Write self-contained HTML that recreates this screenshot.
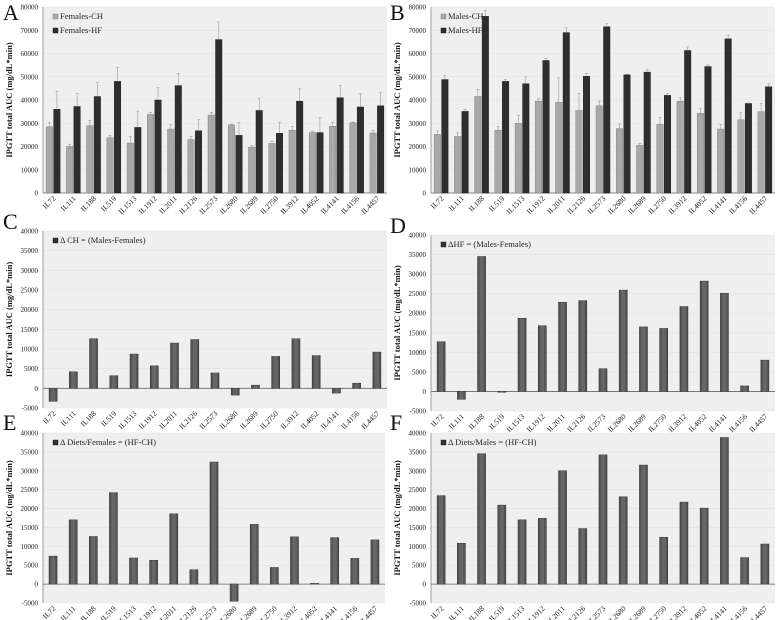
<!DOCTYPE html>
<html><head><meta charset="utf-8"><style>
html,body{margin:0;padding:0;background:#fff;}
svg{display:block;font-family:"Liberation Serif",serif;}
</style></head><body>
<svg id="fig" width="778" height="620" viewBox="0 0 778 620" xmlns="http://www.w3.org/2000/svg"></svg>
<script>
const categories=["IL72","IL111","IL188","IL519","IL1513","IL1912","IL2011","IL2126","IL2573","IL2680","IL2689","IL2750","IL3912","IL4052","IL4141","IL4156","IL4457"];
const femalesCH=[28500,20000,29000,23800,21500,33800,27500,23000,33500,29300,19700,21300,27000,26000,28700,30200,25800];
const femalesHF=[36000,37200,41500,48000,28200,40000,46200,26800,66000,24800,35500,25700,39500,26000,41000,37000,37500];
const femalesCHErr=[1800,1000,2200,1000,2800,800,2000,1400,1200,300,800,1000,1600,600,1600,300,1200];
const femalesHFErr=[7800,5700,6000,6000,7000,5300,5200,4700,7600,5600,5300,4700,5300,6300,5300,5700,5700];
const malesCH=[25200,24300,41500,27000,30000,39500,39000,35500,37500,27700,20500,29500,39500,34300,27500,31500,35000];
const malesHF=[48800,35100,76000,48000,47000,57000,69000,50200,71500,50800,52000,42000,61300,54400,66300,38500,45700];
const malesCHErr=[1500,1500,3000,1500,3500,1000,10500,7300,2000,2000,800,3000,1500,2000,2000,3000,3500];
const malesHFErr=[1700,1000,2500,800,3000,800,2000,1200,1300,300,1000,800,1600,700,1600,200,1300];
const deltaCH=[-3300,4200,12600,3200,8700,5700,11500,12400,3900,-1700,800,8100,12600,8300,-1200,1300,9200];
const deltaHF=[12700,-2000,34500,-200,18700,16800,22800,23200,5800,25900,16500,16100,21700,28200,25100,1400,8000];
const deltaFemales=[7400,17000,12600,24200,6900,6300,18600,3800,32300,-4500,15800,4400,12500,200,12300,6800,11700];
const deltaMales=[23400,10800,34500,20900,17000,17400,30000,14700,34200,23100,31500,12400,21700,20100,38800,7000,10600];
const ticksAB=[0,10000,20000,30000,40000,50000,60000,70000,80000];
const ticksDelta=[-5000,0,5000,10000,15000,20000,25000,30000,35000,40000];

const NS="http://www.w3.org/2000/svg";
const svg=document.getElementById('fig');
function mk(tag,attrs,parent,text){const e=document.createElementNS(NS,tag);for(const k in attrs)e.setAttribute(k,attrs[k]);if(text!==undefined)e.textContent=text;(parent||svg).appendChild(e);return e;}

function panel(cfg){
  const g=mk('g',{});
  
  
  const {x0,x1,yTop,yBot,min,max}=cfg;
  const y=v=>yBot-(v-min)/(max-min)*(yBot-yTop);
  const bw=(x1-x0)/categories.length;
  const xc=i=>x0+bw*(i+0.5);
  const bg=mk('rect',{x:x0,y:yTop,width:x1-x0,height:yBot-yTop,fill:'#efefef'},g);
  
  
  cfg.ticks.forEach(t=>{
    mk('line',{x1:x0,x2:x1,y1:y(t),y2:y(t),stroke:'#e2e2e2','stroke-width':0.6},g);
    const tl=mk('text',{x:x0-5,y:y(t)+2.5,'font-size':7,'text-anchor':'end',fill:'#222'},g,String(t));
    
    
  });
  mk('line',{x1:x0,x2:x0,y1:yTop,y2:yBot,stroke:'#888','stroke-width':0.8},g);
  mk('line',{x1:x0,x2:x1,y1:y(0),y2:y(0),stroke:'#666','stroke-width':0.8},g);
  categories.forEach((c,i)=>{
    const lx=xc(i)+3, ly=yBot+6;
    const t=mk('text',{x:lx,y:ly,'font-size':7.5,'text-anchor':'end',fill:'#222',transform:`rotate(-45 ${lx} ${ly})`},g,c);
    
    
  });
  if(cfg.series.length===2){
    const w=6.5;
    cfg.series.forEach((s,k)=>{
      s.vals.forEach((v,i)=>{
        const bx=xc(i)+(k===0?-w-0.5:0.5);
        const r=mk('rect',{x:bx,y:y(v),width:w,height:y(0)-y(v),fill:s.color,stroke:s.stroke,'stroke-width':0.4},g);
        
        
        const e=s.err[i];
        const el=mk('line',{x1:bx+w/2,x2:bx+w/2,y1:y(v),y2:y(v+e),stroke:'#999','stroke-width':0.6},g);
        
        
        mk('line',{x1:bx+w/2-1.5,x2:bx+w/2+1.5,y1:y(v+e),y2:y(v+e),stroke:'#999','stroke-width':0.6},g);
      });
    });
  } else {
    const s=cfg.series[0]; const w=8;
    s.vals.forEach((v,i)=>{
      const top=Math.min(y(v),y(0)),h=Math.abs(y(v)-y(0));
      const r=mk('rect',{x:xc(i)-w/2,y:top,width:w,height:h,fill:'#555',stroke:'#333','stroke-width':0.6},g);
      
      
      mk('rect',{x:xc(i)-w/2+2,y:top,width:w-4,height:h,fill:'#666'},g);
    });
  }
  // legend
  const lg=mk('g',{},g);
  
  
  cfg.series.forEach((s,k)=>{
    const ly=yTop+cfg.legDy+k*14;
    mk('rect',{x:x0+10,y:ly-5,width:5,height:5,fill:s.color,stroke:s.stroke,'stroke-width':0.4},lg);
    const t=mk('text',{x:x0+17,y:ly,'font-size':8.5,fill:'#222'},lg,s.label);
    
    
  });
  const L=mk('text',{x:cfg.lx,y:cfg.ly,'font-size':22,fill:'#111'},g,cfg.letter);
  
  
  const ym=(yTop+yBot)/2, ax=cfg.x0-31;
  const yt=mk('text',{x:ax,y:ym,'font-size':8.5,'font-weight':'bold','text-anchor':'middle',fill:'#111',transform:`rotate(-90 ${ax} ${ym})`},g,'IPGTT total AUC (mg/dL*min)');
  
  
}
const chC='#a8a8a8', chS='#777', hfC='#2e2e2e';
panel({letter:'A',lx:3,ly:20,x0:43,x1:387,yTop:7,yBot:193,min:0,max:80000,ticks:ticksAB,legDy:12,
 series:[{name:'females-ch',label:'Females-CH',vals:femalesCH,err:femalesCHErr,color:chC,stroke:chS},
         {name:'females-hf',label:'Females-HF',vals:femalesHF,err:femalesHFErr,color:hfC,stroke:'#111'}]});
panel({letter:'B',lx:390,ly:20,x0:431,x1:775,yTop:7,yBot:193,min:0,max:80000,ticks:ticksAB,legDy:12,
 series:[{name:'males-ch',label:'Males-CH',vals:malesCH,err:malesCHErr,color:chC,stroke:chS},
         {name:'males-hf',label:'Males-HF',vals:malesHF,err:malesHFErr,color:hfC,stroke:'#111'}]});
panel({letter:'C',lx:3,ly:229,x0:43,x1:387,yTop:231,yBot:408,min:-5000,max:40000,ticks:ticksDelta,legDy:12,
 series:[{name:'delta-ch',label:'\u0394 CH = (Males-Females)',vals:deltaCH,color:'#333',stroke:'#111'}]});
panel({letter:'D',lx:390,ly:233,x0:431,x1:775,yTop:235,yBot:411,min:-5000,max:40000,ticks:ticksDelta,legDy:12,
 series:[{name:'delta-hf',label:'\u0394HF = (Males-Females)',vals:deltaHF,color:'#333',stroke:'#111'}]});
panel({letter:'E',lx:3,ly:430,x0:43,x1:385,yTop:433,yBot:603,min:-5000,max:40000,ticks:ticksDelta,legDy:12,
 series:[{name:'delta-diets-females',label:'\u0394 Diets/Females = (HF-CH)',vals:deltaFemales,color:'#333',stroke:'#111'}]});
panel({letter:'F',lx:390,ly:430,x0:431,x1:775,yTop:433,yBot:603,min:-5000,max:40000,ticks:ticksDelta,legDy:12,
 series:[{name:'delta-diets-males',label:'\u0394 Diets/Males = (HF-CH)',vals:deltaMales,color:'#333',stroke:'#111'}]});
</script>
</body></html>
